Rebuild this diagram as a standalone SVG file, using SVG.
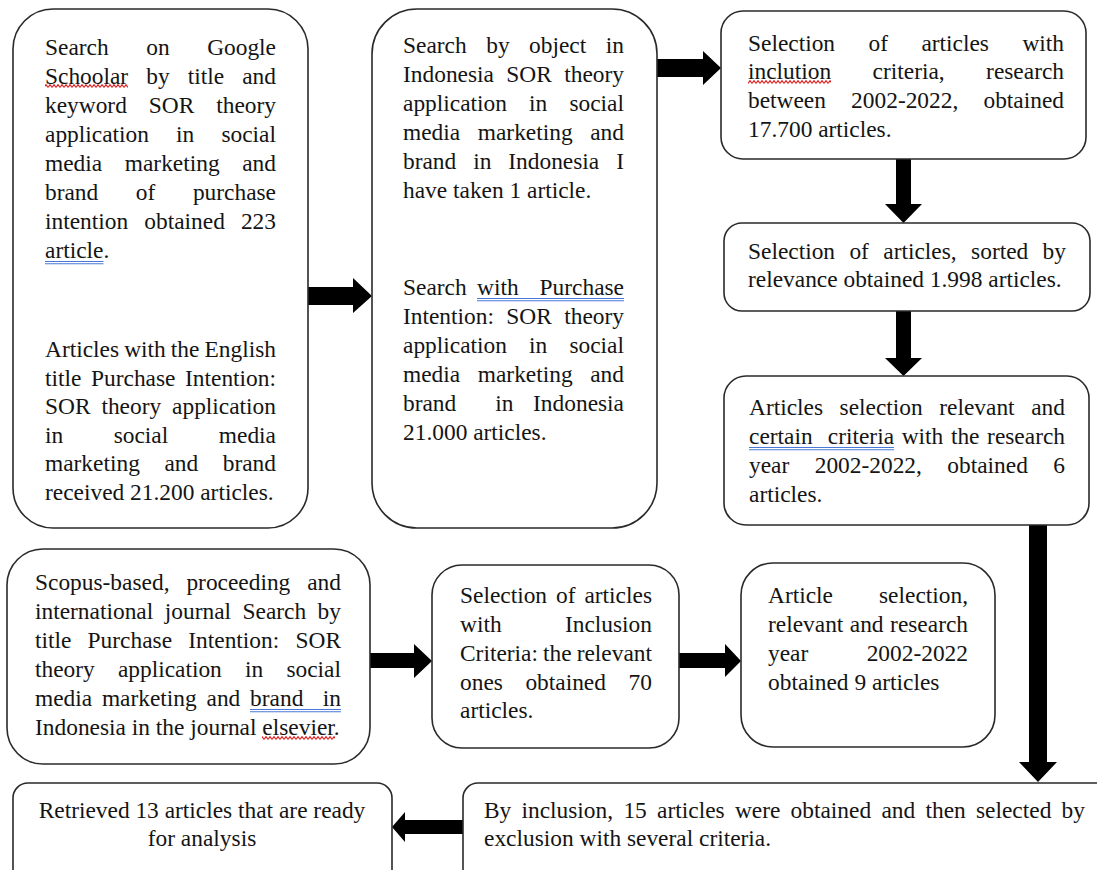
<svg xmlns="http://www.w3.org/2000/svg" width="1097" height="870" viewBox="0 0 1097 870">
<defs>
<style>
.box{fill:#fff;stroke:#2a2a2a;stroke-width:1.6}
.t{font-family:"Liberation Serif","Times New Roman",serif;font-size:23.4px;fill:#141414}
.r{text-anchor:end}
.c{text-anchor:middle}
.arrow{fill:#000}
.ul{stroke:#4a78d8;stroke-width:1.1;fill:none}
</style>
<pattern id="sq" width="4" height="4" patternUnits="userSpaceOnUse"><path d="M0,3.4 L2,0.6 L4,3.4" fill="none" stroke="#e02020" stroke-width="1.1"/></pattern>
</defs>
<rect width="1097" height="870" fill="#fff"/>

<g id="connectors">
<polygon class="arrow" points="308,287 353,287 353,278 372,296 353,313 353,305 308,305"/>
<polygon class="arrow" points="657,59 703,59 703,51 721,68 703,85 703,77 657,77"/>
<polygon class="arrow" points="896,159 911,159 911,204 922,204 903.5,223 885,204 896,204"/>
<polygon class="arrow" points="896,311 911,311 911,358 922,358 903.5,376 885,358 896,358"/>
<polygon class="arrow" points="1029,525 1047,525 1047,762 1057,762 1038,782 1019,762 1029,762"/>
<polygon class="arrow" points="370,653 414,653 414,644 432,661 414,678 414,668 370,668"/>
<polygon class="arrow" points="679,653 725,653 725,644 741,661 725,677 725,668 679,668"/>
<polygon class="arrow" points="463,820 405,820 405,812 392,827 405,842 405,834 463,834"/>
</g>

<g id="n1">
<rect class="box" x="13" y="9" width="295" height="519" rx="40"/>
<text class="t" y="55"><tspan x="45">Search</tspan><tspan x="146.2">on</tspan></text><text class="t r" x="276" y="55">Google</text>
<text class="t" y="84"><tspan x="45">Schoolar</tspan><tspan x="146.3">by</tspan><tspan x="187.7">title</tspan></text><text class="t r" x="276" y="84">and</text>
<text class="t" y="113"><tspan x="45">keyword</tspan><tspan x="148.8">SOR</tspan></text><text class="t r" x="276" y="113">theory</text>
<text class="t" y="142"><tspan x="45">application</tspan><tspan x="176.1">in</tspan></text><text class="t r" x="276" y="142">social</text>
<text class="t" y="171"><tspan x="45">media</tspan><tspan x="124.8">marketing</tspan></text><text class="t r" x="276" y="171">and</text>
<text class="t" y="200"><tspan x="45">brand</tspan><tspan x="135.8">of</tspan></text><text class="t r" x="276" y="200">purchase</text>
<text class="t" y="229"><tspan x="45">intention</tspan><tspan x="144.3">obtained</tspan></text><text class="t r" x="276" y="229">223</text>
<text class="t" x="45" y="258">article.</text>
<text class="t" y="357"><tspan x="45">Articles</tspan><tspan x="124.2">with</tspan><tspan x="170.8">the</tspan></text><text class="t r" x="276" y="357">English</text>
<text class="t" y="386"><tspan x="45">title</tspan><tspan x="91">Purchase</tspan></text><text class="t r" x="276" y="386">Intention:</text>
<text class="t" y="414"><tspan x="45">SOR</tspan><tspan x="101.4">theory</tspan></text><text class="t r" x="276" y="414">application</text>
<text class="t" y="443"><tspan x="45">in</tspan><tspan x="113.7">social</tspan></text><text class="t r" x="276" y="443">media</text>
<text class="t" y="471"><tspan x="45">marketing</tspan><tspan x="164.4">and</tspan></text><text class="t r" x="276" y="471">brand</text>
<text class="t" x="45" y="500">received 21.200 articles.</text>
<rect x="45" y="84" width="83" height="4" fill="url(#sq)"/>
<path class="ul" d="M45,261.5H103.5M45,263.8H103.5"/>
</g>

<g id="n2">
<rect class="box" x="372" y="9" width="285" height="519" rx="45"/>
<text class="t" y="53"><tspan x="403">Search</tspan><tspan x="486.2">by</tspan><tspan x="529.1">object</tspan></text><text class="t r" x="624" y="53">in</text>
<text class="t" y="82"><tspan x="403">Indonesia</tspan><tspan x="506.3">SOR</tspan></text><text class="t r" x="624" y="82">theory</text>
<text class="t" y="111"><tspan x="403">application</tspan><tspan x="529.1">in</tspan></text><text class="t r" x="624" y="111">social</text>
<text class="t" y="140"><tspan x="403">media</tspan><tspan x="477.8">marketing</tspan></text><text class="t r" x="624" y="140">and</text>
<text class="t" y="169"><tspan x="403">brand</tspan><tspan x="473.2">in</tspan><tspan x="508.3">Indonesia</tspan></text><text class="t r" x="624" y="169">I</text>
<text class="t" x="403" y="198">have taken 1 article.</text>
<text class="t" y="295"><tspan x="403">Search</tspan><tspan x="477.1">with</tspan></text><text class="t r" x="624" y="295">Purchase</text>
<text class="t" y="324"><tspan x="403">Intention:</tspan><tspan x="506.3">SOR</tspan></text><text class="t r" x="624" y="324">theory</text>
<text class="t" y="353"><tspan x="403">application</tspan><tspan x="529.1">in</tspan></text><text class="t r" x="624" y="353">social</text>
<text class="t" y="382"><tspan x="403">media</tspan><tspan x="477.8">marketing</tspan></text><text class="t r" x="624" y="382">and</text>
<text class="t" y="411"><tspan x="403">brand</tspan><tspan x="495.3">in</tspan></text><text class="t r" x="624" y="411">Indonesia</text>
<text class="t" x="403" y="440">21.000 articles.</text>
<path class="ul" d="M477,298.5H624M477,300.8H624"/>
</g>

<g id="n3">
<rect class="box" x="721" y="11" width="365" height="148" rx="22"/>
<text class="t" y="51"><tspan x="748">Selection</tspan><tspan x="868.5">of</tspan><tspan x="921.4">articles</tspan></text><text class="t r" x="1064" y="51">with</text>
<text class="t" y="79"><tspan x="748">inclution</tspan><tspan x="872.6">criteria,</tspan></text><text class="t r" x="1064" y="79">research</text>
<text class="t" y="108"><tspan x="748">between</tspan><tspan x="851.1">2002-2022,</tspan></text><text class="t r" x="1064" y="108">obtained</text>
<text class="t" x="748" y="137">17.700 articles.</text>
<rect x="748" y="80" width="83" height="4" fill="url(#sq)"/>
</g>

<g id="n4">
<rect class="box" x="724" y="223" width="366" height="88" rx="18"/>
<text class="t" y="259"><tspan x="748">Selection</tspan><tspan x="849.4">of</tspan><tspan x="883.3">articles,</tspan><tspan x="971.1">sorted</tspan></text><text class="t r" x="1066" y="259">by</text>
<text class="t" x="748" y="287">relevance obtained 1.998 articles.</text>
</g>

<g id="n5">
<rect class="box" x="724" y="376" width="365" height="149" rx="22"/>
<text class="t" y="415"><tspan x="749">Articles</tspan><tspan x="839.6">selection</tspan><tspan x="939.3">relevant</tspan></text><text class="t r" x="1065" y="415">and</text>
<text class="t" y="444"><tspan x="749">certain</tspan><tspan x="827.8">criteria</tspan><tspan x="901.7">with</tspan><tspan x="950.9">the</tspan></text><text class="t r" x="1065" y="444">research</text>
<text class="t" y="473"><tspan x="749">year</tspan><tspan x="814.7">2002-2022,</tspan><tspan x="947.3">obtained</tspan></text><text class="t r" x="1065" y="473">6</text>
<text class="t" x="749" y="502">articles.</text>
<path class="ul" d="M749,447.5H894M749,449.8H894"/>
</g>

<g id="n6">
<rect class="box" x="7" y="549" width="363" height="215" rx="36"/>
<text class="t" y="590"><tspan x="35">Scopus-based,</tspan><tspan x="186.4">proceeding</tspan></text><text class="t r" x="341" y="590">and</text>
<text class="t" y="619"><tspan x="35">international</tspan><tspan x="164.8">journal</tspan><tspan x="242.5">Search</tspan></text><text class="t r" x="341" y="619">by</text>
<text class="t" y="648"><tspan x="35">title</tspan><tspan x="87.6">Purchase</tspan><tspan x="188.3">Intention:</tspan></text><text class="t r" x="341" y="648">SOR</text>
<text class="t" y="677"><tspan x="35">theory</tspan><tspan x="117.9">application</tspan><tspan x="245.1">in</tspan></text><text class="t r" x="341" y="677">social</text>
<text class="t" y="706"><tspan x="35">media</tspan><tspan x="101.9">marketing</tspan><tspan x="206.5">and</tspan><tspan x="250.1">brand</tspan></text><text class="t r" x="341" y="706">in</text>
<text class="t" x="35" y="735">Indonesia in the journal elsevier.</text>
<path class="ul" d="M250,709.5H341M250,711.8H341"/>
<rect x="262" y="736" width="73" height="4" fill="url(#sq)"/>
</g>

<g id="n7">
<rect class="box" x="432" y="565" width="247" height="183" rx="30"/>
<text class="t" y="603"><tspan x="460">Selection</tspan><tspan x="556">of</tspan></text><text class="t r" x="652" y="603">articles</text>
<text class="t" x="460" y="632">with</text><text class="t r" x="652" y="632">Inclusion</text>
<text class="t" y="661"><tspan x="460">Criteria:</tspan><tspan x="543">the</tspan></text><text class="t r" x="652" y="661">relevant</text>
<text class="t" y="690"><tspan x="460">ones</tspan><tspan x="525.4">obtained</tspan></text><text class="t r" x="652" y="690">70</text>
<text class="t" x="460" y="718">articles.</text>
</g>

<g id="n8">
<rect class="box" x="741" y="563" width="254" height="184" rx="32"/>
<text class="t" x="768" y="603">Article</text><text class="t r" x="968" y="603">selection,</text>
<text class="t" y="632"><tspan x="768">relevant</tspan><tspan x="849.8">and</tspan></text><text class="t r" x="968" y="632">research</text>
<text class="t" x="768" y="661">year</text><text class="t r" x="968" y="661">2002-2022</text>
<text class="t" x="768" y="690">obtained 9 articles</text>
</g>

<g id="n9">
<rect class="box" x="13" y="783" width="379" height="110" rx="15"/>
<text class="t c" x="202" y="818">Retrieved 13 articles that are ready</text>
<text class="t c" x="202" y="846">for analysis</text>
</g>

<g id="n10">
<rect class="box" x="463" y="783" width="680" height="110" rx="15"/>
<text class="t" y="818"><tspan x="484">By</tspan><tspan x="521.5">inclusion,</tspan><tspan x="623.4">15</tspan><tspan x="657.1">articles</tspan><tspan x="734.9">were</tspan><tspan x="790.6">obtained</tspan><tspan x="881.4">and</tspan><tspan x="925.5">then</tspan><tspan x="976">selected</tspan></text><text class="t r" x="1085" y="818">by</text>
<text class="t" x="484" y="846">exclusion with several criteria.</text>
</g>
</svg>
